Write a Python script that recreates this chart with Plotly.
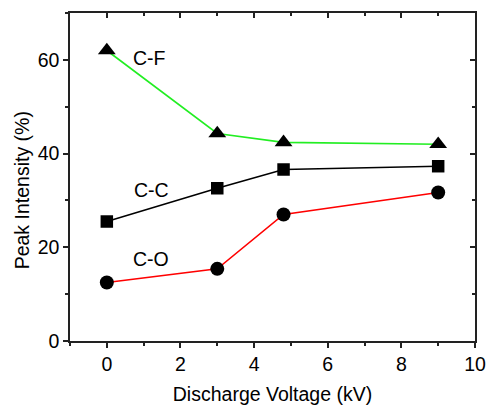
import plotly.graph_objects as go

voltage = [0, 3, 4.8, 9]
cf = [62.0, 44.3, 42.4, 42.0]
cc = [25.5, 32.6, 36.6, 37.3]
co = [12.5, 15.4, 27.0, 31.7]

series = [
    ("C-F", cf, "#22ee22", "triangle-up", 15.5),
    ("C-C", cc, "#000000", "square", 12.5),
    ("C-O", co, "#ff0000", "circle", 14),
]
labels = [("C-F", 1.15, 60.5), ("C-C", 1.2, 32.3), ("C-O", 1.2, 17.6)]

FONT = "Liberation Sans, Arial, sans-serif"
FS = 19.5
AX = "#222222"

fig = go.Figure()
for name, ys, color, sym, sz in series:
    fig.add_trace(go.Scatter(
        x=voltage, y=ys, mode="lines", line=dict(color=color, width=1.6),
        showlegend=False, hoverinfo="skip"))
for name, ys, color, sym, sz in series:
    fig.add_trace(go.Scatter(
        x=voltage, y=ys, mode="markers", name=name,
        marker=dict(symbol=sym, size=sz, color="black", line=dict(width=0)),
        showlegend=False))
# invisible trace for mirrored axes
fig.add_trace(go.Scatter(x=[0], y=[0], xaxis="x2", yaxis="y2", mode="markers",
                         marker=dict(opacity=0), showlegend=False, hoverinfo="skip"))

for txt, lx, ly in labels:
    fig.add_annotation(x=lx, y=ly, text=txt, showarrow=False,
                       font=dict(family=FONT, size=FS, color="black"))

fig.add_annotation(xref="paper", yref="paper", x=-0.118, y=0.46,
                   xanchor="center", yanchor="middle",
                   text="Peak Intensity (%)", textangle=-90, showarrow=False,
                   font=dict(family=FONT, size=FS, color="black"))

common = dict(showline=True, linecolor=AX, linewidth=1.5, showgrid=False,
              zeroline=False, tickcolor=AX, tickwidth=1.5, ticklen=5,
              automargin=False)

fig.update_layout(
    width=486, height=406,
    margin=dict(l=70, r=11, t=13, b=65),
    paper_bgcolor="white", plot_bgcolor="white",
    font=dict(family=FONT, size=FS, color="black"),
    xaxis=dict(range=[-1, 10], tick0=0, dtick=2, ticks="outside",
               minor=dict(dtick=1, tick0=0, ticks="outside", ticklen=3,
                          tickcolor=AX, tickwidth=1.5),
               title=dict(text="Discharge Voltage (kV)", standoff=13,
                          font=dict(size=FS)),
               **common),
    yaxis=dict(range=[0, 70], tick0=0, dtick=20, ticks="outside",
               minor=dict(dtick=10, tick0=0, ticks="outside", ticklen=3,
                          tickcolor=AX, tickwidth=1.5),
               **common),
    xaxis2=dict(overlaying="x", side="top", range=[-1, 10], tick0=0, dtick=2,
                ticks="inside", showticklabels=False,
                minor=dict(dtick=1, tick0=0, ticks="inside", ticklen=3,
                           tickcolor=AX, tickwidth=1.5),
                **common),
    yaxis2=dict(overlaying="y", side="right", range=[0, 70], tick0=0, dtick=20,
                ticks="inside", showticklabels=False,
                minor=dict(dtick=10, tick0=0, ticks="inside", ticklen=3,
                           tickcolor=AX, tickwidth=1.5),
                **common),
)

fig.write_html("out.html")
